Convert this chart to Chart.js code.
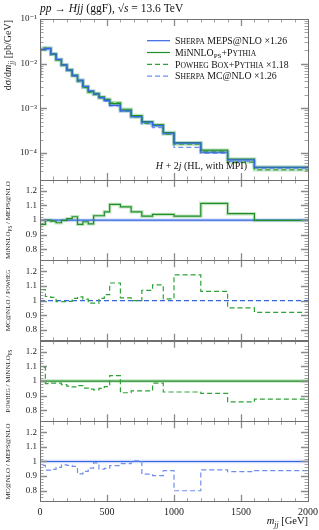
<!DOCTYPE html>
<html>
<head>
<meta charset="utf-8">
<script src="https://cdn.jsdelivr.net/npm/chart.js@4.4.0/dist/chart.umd.min.js"></script>
<style>
  html, body { margin: 0; padding: 0; background: #fff; }
</style>
</head>
<body>
<canvas id="plot" width="319" height="530"></canvas>
<script>
// Bin edges in m_jj [GeV]
const binEdges = [0, 40, 80, 120, 160, 200, 240, 280, 320, 360, 400, 440, 480, 520,
                  600, 680, 760, 840, 920, 1000, 1200, 1400, 1600, 1800, 2000];

// dsigma/dm_jj [pb/GeV], one value per bin
const mepsXsec   = [5.6e-3, 0.0210, 0.0220, 0.0165, 0.0125, 0.0094, 0.0072, 0.0054, 0.0043, 0.0031, 0.00245, 0.0021,
                    0.00175, 0.0015, 0.00116, 8.75e-4, 6.5e-4, 4.9e-4, 4.1e-4, 2.77e-4, 1.66e-4, 1.04e-4, 7.0e-5, 4.8e-5];
const minnloXsec = [5.24e-3, 0.0204, 0.0220, 0.0164, 0.0123, 0.00938, 0.00727, 0.00552, 0.00418, 0.00307, 0.00239, 0.00216,
                    0.0018, 0.00159, 0.00128, 9.55e-4, 6.87e-4, 5.03e-4, 4.26e-4, 2.88e-4, 1.70e-4, 1.16e-4, 7.31e-5, 4.79e-5];
const powhegXsec = [5.0e-3, 0.0223, 0.0216, 0.0161, 0.0121, 0.00915, 0.00702, 0.0053, 0.00405, 0.00292, 0.00226, 0.00203,
                    0.00171, 0.00153, 0.00133, 8.79e-4, 6.4e-4, 4.69e-4, 4.2e-4, 2.66e-4, 1.57e-4, 1.06e-4, 6.26e-5, 4.2e-5];
const mcnloXsec  = [4.94e-3, 0.02045, 0.0207, 0.0156, 0.0120, 0.00918, 0.0070, 0.00522, 0.00393, 0.00289, 0.00234, 0.00208,
                    0.00166, 0.00143, 0.00113, 8.62e-4, 6.53e-4, 4.48e-4, 3.7e-4, 2.6e-4, 1.33e-4, 9.8e-5, 6.5e-5, 4.5e-5];

// ratio panels, one value per bin
const ratioMinnloMeps   = [0.935, 0.971, 1.0, 0.993, 0.982, 0.998, 1.01, 1.023, 0.971, 0.989, 0.975, 1.03,
                           1.03, 1.057, 1.107, 1.091, 1.057, 1.027, 1.039, 1.039, 1.027, 1.114, 1.044, 0.998];
const ratioMcnloPowheg  = [1.45, 1.075, 1.028, 1.022, 0.993, 0.993, 0.995, 1.015, 1.025, 1.01, 0.982, 0.982,
                           1.015, 1.04, 1.12, 1.018, 1.0, 1.07, 1.108, 1.012, 1.176, 1.063, 0.95, 0.92];
const ratioPowhegMinnlo = [1.45, 1.093, 0.982, 0.985, 0.985, 0.975, 0.965, 0.96, 0.968, 0.952, 0.945, 0.94,
                           0.95, 0.962, 1.037, 0.92, 0.932, 0.932, 0.985, 0.925, 0.925, 0.915, 0.857, 0.876];
const ratioMcnloMeps    = [0.883, 0.974, 0.941, 0.946, 0.96, 0.977, 0.973, 0.966, 0.915, 0.932, 0.955, 0.99,
                           0.947, 0.953, 0.972, 0.985, 1.004, 0.914, 0.903, 0.937, 0.80, 0.943, 0.93, 0.937];

const xTickStep = 100;
const xLabelStep = 500;
const ratioLabels = [0.8, 0.9, 1, 1.1, 1.2];

// Styling
const FONT = "'Liberation Serif', 'DejaVu Serif', serif";
const BLUE = '#3366e0';
const LIGHT_BLUE = '#6f8ff0';
const GREEN = '#1f8f28';
const GREEN_DASH = '#2ea236';
const BAND_BLUE = 'rgba(120,155,240,0.35)';
const BAND_GREEN = 'rgba(110,190,110,0.4)';
const DASH = [5, 3];
const panelIds = ['yMain', 'yR1', 'yR2', 'yR3', 'yR4'];

function steps(values) {
    return binEdges.map((e, i) => ({ x: e, y: values[Math.min(i, values.length - 1)] }));
}
function flat(v) {
    return [{ x: binEdges[0], y: v }, { x: binEdges[binEdges.length - 1], y: v }];
}
function series(data, axis, color, extra) {
    return Object.assign({
        data: data, yAxisID: axis, borderColor: color, backgroundColor: color,
        borderWidth: 1.2, stepped: 'after', pointRadius: 0, fill: false, order: 1
    }, extra || {});
}
function band(data, axis, color) {
    return series(data, axis, color, { borderWidth: 3.5, order: 10 });
}

const SUP = { '-': '\u207B', '0': '\u2070', '1': '\u00B9', '2': '\u00B2', '3': '\u00B3', '4': '\u2074',
              '5': '\u2075', '6': '\u2076', '7': '\u2077', '8': '\u2078', '9': '\u2079' };
function toSup(n) { return String(n).split('').map(c => SUP[c]).join(''); }

function isDecade(v) {
    const e = Math.log10(v);
    return Math.abs(e - Math.round(e)) < 1e-6;
}
function intMantissa(v) {
    const e = Math.floor(Math.log10(v) + 1e-9);
    const m = v / Math.pow(10, e);
    return Math.abs(m - Math.round(m)) < 1e-6;
}
function ratioLabel(v) {
    const r = Math.round(v * 10);
    if (Math.abs(v * 10 - r) > 1e-6 || !ratioLabels.includes(r / 10)) return '';
    return r === 10 ? '1' : (r / 10).toFixed(1);
}

// rich text: segments {t, it, sc, sub}
function pieces(segs, size) {
    const out = [];
    segs.forEach(s => {
        const base = s.sub ? size * 0.72 : size;
        const dy = s.sub ? size * 0.28 : 0;
        if (s.sc) {
            (s.t.match(/[a-z]+|[^a-z]+/g) || []).forEach(r => {
                const lower = /[a-z]/.test(r[0]);
                out.push({ t: lower ? r.toUpperCase() : r, size: lower ? base * 0.78 : base, it: s.it, dy: dy });
            });
        } else {
            out.push({ t: s.t, size: base, it: s.it, dy: dy });
        }
    });
    return out;
}
function drawRich(ctx, segs, x, y, size, align, color) {
    const ps = pieces(segs, size);
    let w = 0;
    ps.forEach(p => {
        ctx.font = (p.it ? 'italic ' : '') + p.size + 'px ' + FONT;
        p.w = ctx.measureText(p.t).width;
        w += p.w;
    });
    let cx = align === 'right' ? x - w : (align === 'center' ? x - w / 2 : x);
    ctx.fillStyle = color || '#111';
    ctx.textAlign = 'left';
    ctx.textBaseline = 'alphabetic';
    ps.forEach(p => {
        ctx.font = (p.it ? 'italic ' : '') + p.size + 'px ' + FONT;
        ctx.fillText(p.t, cx, y + p.dy);
        cx += p.w;
    });
}
function drawRotated(ctx, segs, x, y, size, align) {
    ctx.save();
    ctx.translate(x, y);
    ctx.rotate(-Math.PI / 2);
    drawRich(ctx, segs, 0, 0, size, align, '#222');
    ctx.restore();
}

// Frames and inward ticks for every panel
const frameTicks = {
    id: 'frameTicks',
    afterDatasetsDraw(chart) {
        const ctx = chart.ctx;
        const xs = chart.scales.x;
        const left = chart.chartArea.left, right = chart.chartArea.right;
        ctx.save();
        panelIds.forEach(id => {
            const ys = chart.scales[id];
            const top = ys.top, bottom = ys.bottom;
            xs.ticks.forEach(t => {
                if (t.value <= 0 || t.value >= 2000) return;
                const px = Math.round(xs.getPixelForValue(t.value)) + 0.5;
                const major = t.value % xLabelStep === 0;
                const len = major ? 7 : 3.5;
                ctx.strokeStyle = '#8a8a8a';
                ctx.lineWidth = major ? 1.3 : 0.8;
                ctx.beginPath();
                ctx.moveTo(px, top); ctx.lineTo(px, top + len);
                ctx.moveTo(px, bottom); ctx.lineTo(px, bottom - len);
                ctx.stroke();
            });
            ys.ticks.forEach(t => {
                const v = t.value;
                let major;
                if (id === 'yMain') {
                    if (!intMantissa(v)) return;
                    major = isDecade(v);
                } else {
                    if (Math.abs(v * 50 - Math.round(v * 50)) > 1e-6) return;
                    major = ratioLabel(v) !== '';
                }
                const py = Math.round(ys.getPixelForValue(v)) + 0.5;
                if (py <= top + 1 || py >= bottom - 1) return;
                const len = major ? 7 : 3.5;
                ctx.strokeStyle = '#8a8a8a';
                ctx.lineWidth = major ? 1.3 : 0.8;
                ctx.beginPath();
                ctx.moveTo(left, py); ctx.lineTo(left + len, py);
                ctx.moveTo(right, py); ctx.lineTo(right - len, py);
                ctx.stroke();
            });
            ctx.strokeStyle = '#707070';
            ctx.lineWidth = 1;
            ctx.strokeRect(Math.round(left) + 0.5, Math.round(top) + 0.5,
                           Math.round(right - left), Math.round(bottom - top));
        });
        ctx.restore();
    }
};

// Title, legend, annotation and axis titles
const texts = {
    id: 'texts',
    afterDraw(chart) {
        const ctx = chart.ctx;
        const area = chart.chartArea;
        ctx.save();
        drawRich(ctx, [{ t: 'pp', it: 1 }, { t: ' \u2192 ' }, { t: 'Hjj', it: 1 }, { t: ' (ggF), \u221A' },
                       { t: 's', it: 1 }, { t: ' = 13.6 TeV' }], area.left, 11.5, 11.5, 'left', '#111');

        const legendRows = [
            { segs: [{ t: 'Sherpa', sc: 1 }, { t: ' MEPS@NLO \u00D71.26' }], color: BLUE, dash: [] },
            { segs: [{ t: 'MiNNLO' }, { t: 'PS', sub: 1 }, { t: '+' }, { t: 'Pythia', sc: 1 }], color: GREEN, dash: [] },
            { segs: [{ t: 'Powheg Box', sc: 1 }, { t: '+' }, { t: 'Pythia', sc: 1 }, { t: ' \u00D71.18' }], color: GREEN_DASH, dash: DASH },
            { segs: [{ t: 'Sherpa', sc: 1 }, { t: ' MC@NLO \u00D71.26' }], color: LIGHT_BLUE, dash: DASH }
        ];
        legendRows.forEach((row, i) => {
            const cy = 40.7 + i * 11.8;
            ctx.save();
            ctx.strokeStyle = row.color;
            ctx.lineWidth = 1.2;
            ctx.setLineDash(row.dash);
            ctx.beginPath();
            ctx.moveTo(147, cy); ctx.lineTo(170, cy);
            ctx.stroke();
            ctx.restore();
            drawRich(ctx, row.segs, 175, cy + 3.2, 9.8, 'left', '#111');
        });

        drawRich(ctx, [{ t: 'H', it: 1 }, { t: ' + 2' }, { t: 'j', it: 1 }, { t: ' (HL, with MPI)' }],
                 247, 168.5, 10, 'right', '#111');

        drawRich(ctx, [{ t: 'm', it: 1 }, { t: 'jj', it: 1, sub: 1 }, { t: ' [GeV]' }],
                 area.right, 524, 10.5, 'right', '#111');

        drawRotated(ctx, [{ t: 'd\u03C3/d' }, { t: 'm', it: 1 }, { t: 'jj', it: 1, sub: 1 }, { t: ' [pb/GeV]' }],
                    11, chart.scales.yMain.top + 1, 10, 'right');

        const ratioTitles = [
            [{ t: 'MiNNLO' }, { t: 'PS', sub: 1 }, { t: ' / MEPS@NLO' }],
            [{ t: 'MC@NLO / ' }, { t: 'Powheg', sc: 1 }],
            [{ t: 'Powheg', sc: 1 }, { t: ' / MiNNLO' }, { t: 'PS', sub: 1 }],
            [{ t: 'MC@NLO / MEPS@NLO' }]
        ];
        ratioTitles.forEach((segs, i) => {
            const ys = chart.scales[panelIds[i + 1]];
            drawRotated(ctx, segs, 10, (ys.top + ys.bottom) / 2, 7, 'center');
        });
        ctx.restore();
    }
};

function ratioAxis(weight) {
    return {
        type: 'linear', position: 'left', stack: 'panels', stackWeight: weight,
        min: 0.725, max: 1.275,
        grid: { display: false, drawTicks: false }, border: { display: false },
        ticks: { stepSize: 0.02, autoSkip: false, padding: 3, color: '#222',
                 font: { family: FONT, size: 9 }, callback: v => ratioLabel(v) },
        afterFit: s => { s.width = 40; s.paddingTop = 0; s.paddingBottom = 0; }
    };
}

const datasets = [
    // main panel
    series(steps(mepsXsec), 'yMain', BLUE),
    series(steps(minnloXsec), 'yMain', GREEN),
    series(steps(powhegXsec), 'yMain', GREEN_DASH, { borderDash: DASH }),
    series(steps(mcnloXsec), 'yMain', LIGHT_BLUE, { borderDash: DASH }),
    band(steps(mepsXsec), 'yMain', BAND_BLUE),
    band(steps(minnloXsec), 'yMain', BAND_GREEN),
    band(steps(powhegXsec), 'yMain', BAND_GREEN),
    // MiNNLO / MEPS
    series(flat(1), 'yR1', BLUE, { order: 2 }),
    band(flat(1), 'yR1', BAND_BLUE),
    series(steps(ratioMinnloMeps), 'yR1', GREEN),
    band(steps(ratioMinnloMeps), 'yR1', BAND_GREEN),
    // MC@NLO / POWHEG
    series(flat(1), 'yR2', BLUE, { borderDash: DASH, order: 2 }),
    series(steps(ratioMcnloPowheg), 'yR2', GREEN_DASH, { borderDash: DASH }),
    // POWHEG / MiNNLO
    series(flat(1), 'yR3', GREEN, { order: 2 }),
    band(flat(1), 'yR3', BAND_GREEN),
    series(steps(ratioPowhegMinnlo), 'yR3', GREEN_DASH, { borderDash: DASH }),
    // MC@NLO / MEPS
    series(flat(1), 'yR4', BLUE, { order: 2 }),
    band(flat(1), 'yR4', BAND_BLUE),
    series(steps(ratioMcnloMeps), 'yR4', LIGHT_BLUE, { borderDash: DASH })
];

new Chart(document.getElementById('plot'), {
    type: 'line',
    data: { datasets: datasets },
    plugins: [frameTicks, texts],
    options: {
        responsive: false,
        animation: false,
        devicePixelRatio: 1,
        layout: { padding: { left: 0, top: 19, right: 11, bottom: 0 } },
        plugins: { legend: { display: false }, tooltip: { enabled: false }, title: { display: false } },
        scales: {
            x: {
                type: 'linear', position: 'bottom', min: 0, max: 2000,
                grid: { display: false, drawTicks: false }, border: { display: false },
                ticks: { stepSize: xTickStep, autoSkip: false, maxRotation: 0, padding: 5, color: '#222',
                         font: { family: FONT, size: 10 },
                         callback: v => (v % xLabelStep === 0 ? String(v) : '') },
                afterFit: s => { s.height = 28.3; s.paddingLeft = 0; s.paddingRight = 0; }
            },
            // stacked panels: the last one defined is placed at the top
            yR4: ratioAxis(1),
            yR3: ratioAxis(1),
            yR2: ratioAxis(1),
            yR1: ratioAxis(1),
            yMain: {
                type: 'logarithmic', position: 'left', stack: 'panels', stackWeight: 2,
                min: 2.5e-5, max: 0.1,
                grid: { display: false, drawTicks: false }, border: { display: false },
                ticks: { autoSkip: false, padding: 3, color: '#222', font: { family: FONT, size: 9 },
                         callback: v => (isDecade(v) ? '10' + toSup(Math.round(Math.log10(v))) : '') },
                afterFit: s => { s.width = 40; s.paddingTop = 0; s.paddingBottom = 0; }
            }
        }
    }
});
</script>
</body>
</html>
